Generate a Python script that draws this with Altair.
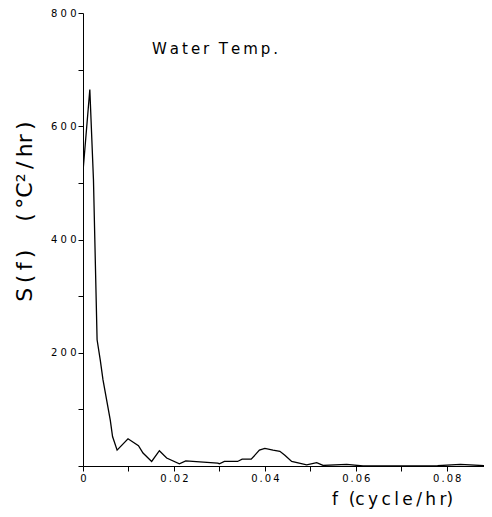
import altair as alt
import pandas as pd

# frequency (cycle/hr) and spectral density S(f) (degC^2/hr)
freq = [0.0, 0.0015, 0.0023, 0.0026, 0.0031, 0.0038, 0.0044, 0.0060, 0.0065, 0.0075,
        0.0099, 0.0122, 0.0132, 0.0151, 0.0168, 0.0184, 0.0212, 0.0226, 0.0296, 0.0300,
        0.0311, 0.0340, 0.0350, 0.0370, 0.0388, 0.0400, 0.0418, 0.0433, 0.0444, 0.0459,
        0.0492, 0.0514, 0.0528, 0.0580, 0.0616, 0.0780, 0.0830, 0.0873, 0.0895]
spec = [520, 665, 506, 400, 223, 187, 152, 81, 52, 28,
        48, 36, 23, 8, 27, 14, 4, 9, 5, 4,
        8, 8, 12, 12, 28, 31, 28, 26, 19, 8,
        2, 6, 1, 3, 0, 0.5, 3, 1, 0]

TS = "\u2009"  # thin space for letter spacing
NB = "\u00a0"  # non-collapsing space

y_tick_values = [0, 100, 200, 300, 400, 500, 600, 700, 800]
y_tick_labels = {200: "200", 400: "400", 600: "600", 800: "800"}
x_tick_values = [0, 0.01, 0.02, 0.03, 0.04, 0.05, 0.06, 0.07, 0.08]
x_tick_labels = {0: "0" + NB + NB + NB, 2: "0.02", 4: "0.04", 6: "0.06", 8: "0.08"}

def spaced(s, sep=TS):
    return sep.join(list(s))

y_expr = "".join(
    f"datum.value == {v} ? '{spaced(t, NB)}' : " for v, t in y_tick_labels.items()
) + "''"
x_expr = "".join(
    f"round(datum.value*100) == {k} ? '{t if k == 0 else spaced(t)}' : " for k, t in x_tick_labels.items()
) + "''"

df = pd.DataFrame({"f": freq, "S": spec})

FONT = "DejaVu Sans"

x_title = "f" + NB + NB + "(" + spaced("cycle/hr") + ")"
y_title = ("S" + TS + "(" + TS + "f" + TS + ")" + NB * 4 +
           "(" + TS + "°C²" + TS + "/" + TS + "hr" + TS + ")")
main_title = spaced("Water") + NB + NB + spaced("Temp.")

chart = alt.Chart(df).mark_line(color="black", strokeWidth=1.3, clip=True).encode(
    x=alt.X(
        "f:Q",
        scale=alt.Scale(domain=[0, 0.0882], nice=False, zero=True),
        axis=alt.Axis(
            values=x_tick_values,
            labelExpr=x_expr,
            title=x_title,
            titleFontSize=17,
            titleFontWeight="normal",
            titleFont=FONT,
            titleX=309,
            titleY=38,
            titleAlign="center",
            titleBaseline="alphabetic",
            titleColor="black",
            labelFont=FONT,
            labelFontSize=10,
            labelColor="black",
            labelPadding=2,
            labelFlush=False,
            labelOverlap=False,
            tickSize=5,
            tickColor="black",
            domainColor="black",
            grid=False,
        ),
    ),
    y=alt.Y(
        "S:Q",
        scale=alt.Scale(domain=[0, 800], nice=False),
        axis=alt.Axis(
            values=y_tick_values,
            labelExpr=y_expr,
            title=y_title,
            titleFontSize=22,
            titleFontWeight="normal",
            titleFont=FONT,
            titleX=-52,
            titleY=198,
            titleAlign="center",
            titleBaseline="alphabetic",
            titleAngle=270,
            titleColor="black",
            labelFont=FONT,
            labelFontSize=10,
            labelColor="black",
            labelPadding=2,
            labelOverlap=False,
            labelFlush=False,
            tickSize=5,
            tickColor="black",
            domainColor="black",
            grid=False,
        ),
    ),
).properties(
    width=401,
    height=453,
    title=alt.Title(
        main_title,
        anchor="start",
        frame="group",
        orient="top",
        offset=0,
        dx=69,
        dy=61,
        baseline="alphabetic",
        fontSize=15,
        fontWeight="normal",
        font=FONT,
        color="black",
    ),
    autosize=alt.AutoSizeParams(type="none"),
    padding={"left": 75, "top": 5, "right": 0, "bottom": 43},
    background="white",
).configure_view(stroke=None)

chart.save("out.html", embed_options={"renderer": "svg", "actions": False})
